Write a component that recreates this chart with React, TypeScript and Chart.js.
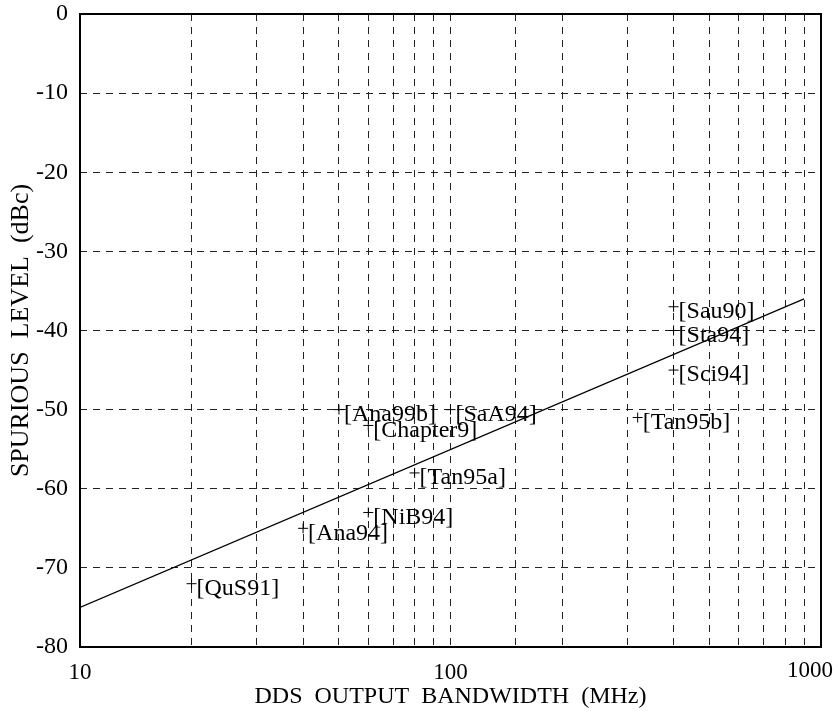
import React, { useEffect, useRef } from "react";
import { Chart, registerables } from "chart.js";

Chart.register(...registerables);

const refNames = ["QuS91", "Ana94", "NiB94", "Tan95a", "Ana99b", "Chapter9", "SaA94", "Sau90", "Sta94", "Sci94", "Tan95b"];
const refBandwidth = [20, 40, 60, 80, 50, 60, 100, 400, 400, 400, 320];
const refSpurious = [-72, -65, -63, -58, -50, -52, -50, -37, -40, -45, -51];

const trendBandwidth = [10, 900];
const trendSpurious = [-75, -36];

const xTitle = "DDS  OUTPUT  BANDWIDTH  (MHz)";
const yTitle = "SPURIOUS  LEVEL  (dBc)";
const yMin = -80;
const yMax = 0;
const yStep = 10;
const xMin = 10;
const xMax = 1000;
const lastXLabel = 1000;

const FONT = "'Liberation Serif', 'Times New Roman', serif";

const isDecade = (v: number) => {
  const l = Math.log10(v);
  return Math.abs(l - Math.round(l)) < 1e-9;
};

const frameAndLabels = {
  id: "frameAndLabels",
  afterDatasetsDraw(chart: any) {
    const { ctx, chartArea } = chart;
    const meta = chart.getDatasetMeta(1);
    ctx.save();
    ctx.fillStyle = "#000";
    ctx.font = `24px ${FONT}`;
    ctx.textAlign = "left";
    ctx.textBaseline = "middle";
    meta.data.forEach((el: any, i: number) => {
      ctx.fillText(`[${refNames[i]}]`, el.x + 5, el.y + 5);
    });
    ctx.restore();
    ctx.save();
    ctx.strokeStyle = "#000";
    ctx.lineWidth = 2;
    ctx.strokeRect(chartArea.left, chartArea.top, chartArea.right - chartArea.left, chartArea.bottom - chartArea.top);
    ctx.restore();
    const xs = chart.scales.x;
    ctx.save();
    ctx.fillStyle = "#000";
    ctx.font = `23px ${FONT}`;
    ctx.textAlign = "center";
    ctx.textBaseline = "top";
    ctx.fillText(String(lastXLabel), xs.getPixelForValue(lastXLabel) - 11, chartArea.bottom + 12);
    ctx.restore();
  },
};

export default function App() {
  const ref = useRef<HTMLCanvasElement | null>(null);
  useEffect(() => {
    if (!ref.current) return;
    const chart = new Chart(ref.current, {
      type: "scatter",
      data: {
        datasets: [
          {
            type: "line",
            data: trendBandwidth.map((x, i) => ({ x, y: trendSpurious[i] })),
            borderColor: "#000",
            borderWidth: 1.2,
            pointRadius: 0,
            fill: false,
          } as any,
          {
            data: refBandwidth.map((x, i) => ({ x, y: refSpurious[i] })),
            pointStyle: "cross",
            pointRadius: 5,
            borderColor: "#000",
            borderWidth: 1,
            backgroundColor: "#000",
          },
        ],
      },
      options: {
        responsive: false,
        animation: false,
        layout: { padding: { top: 14, right: 18, left: 0, bottom: 0 } },
        plugins: { legend: { display: false }, tooltip: { enabled: false } },
        scales: {
          x: {
            type: "logarithmic",
            min: xMin,
            max: xMax,
            afterFit: (s: any) => {
              s.height = 64;
              s.paddingLeft = 0;
              s.paddingRight = 0;
            },
            grid: { color: "#222", lineWidth: 1, drawTicks: false },
            border: { display: false, dash: [7, 6] },
            ticks: {
              autoSkip: false,
              maxRotation: 0,
              padding: 12,
              color: "#000",
              font: { family: FONT, size: 23 },
              callback: (v: any) => {
                const n = Number(v);
                if (n === lastXLabel) return "";
                return isDecade(n) ? String(n) : "";
              },
            },
            title: {
              display: true,
              text: xTitle,
              color: "#000",
              font: { family: FONT, size: 24 },
              padding: { top: 0, bottom: 0 },
            },
          },
          y: {
            min: yMin,
            max: yMax,
            afterFit: (s: any) => {
              s.width = 80;
              s.paddingTop = 0;
              s.paddingBottom = 0;
            },
            grid: { color: "#222", lineWidth: 1, drawTicks: false },
            border: { display: false, dash: [7, 6] },
            ticks: {
              stepSize: yStep,
              padding: 12,
              color: "#000",
              font: { family: FONT, size: 24 },
              callback: (v: any) => String(v),
            },
            title: {
              display: true,
              text: yTitle,
              color: "#000",
              font: { family: FONT, size: 26 },
              padding: { top: 6, bottom: 0 },
            },
          },
        },
      },
      plugins: [frameAndLabels],
    });
    return () => chart.destroy();
  }, []);
  return (
    <div style={{ position: "absolute", left: 0, top: 0, width: 839, height: 711 }}>
      <canvas ref={ref} width={839} height={711} style={{ display: "block" }} />
    </div>
  );
}
